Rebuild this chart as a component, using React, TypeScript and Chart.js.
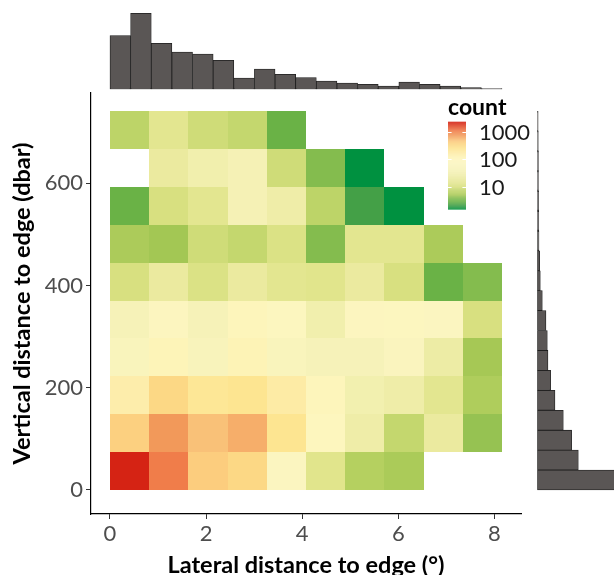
import React, { useEffect, useRef } from "react";
import { Chart, registerables } from "chart.js";
Chart.register(...registerables);

// ---------------- data ----------------
const xTicks = [0, 2, 4, 6, 8];
const yTicks = [0, 200, 400, 600];
const legendTicks = [10, 100, 1000];
const legendMin = 1.5;
const legendMax = 2350;

// 2-D bins (lateral °, vertical dbar)
const heatXStart = 0;
const heatXWidth = 0.8156;
const heatYStart = 0;
const heatYHeight = 74.1;

// counts per vertical bin, bottom row first; null = empty bin
const countsRow0 = [2290, 1120, 447, 355, 71, 13, 6, 5.3, null, null];
const countsRow1 = [420, 790, 520, 630, 250, 100, 25, 8, 20, 4.5];
const countsRow2 = [160, 355, 230, 250, 180, 110, 30, 25, 14, 5.6];
const countsRow3 = [55, 120, 50, 125, 55, 42, 42, 60, 23, 5];
const countsRow4 = [40, 80, 40, 110, 90, 28, 80, 90, 70, 10];
const countsRow5 = [10, 20, 11, 20, 14, 13, 20, 10, 3, 4];
const countsRow6 = [5.4, 4.9, 9, 8, 11, 4, 14, 14, 5.4, null];
const countsRow7 = [3, 10, 14, 36, 25, 7, 2.2, 1.5, null, null];
const countsRow8 = [null, 20, 28, 36, 9, 4, 1.5, null, null, null];
const countsRow9 = [7, 14, 9, 8, 3, null, null, null, null, null];
const heatRows = [countsRow0, countsRow1, countsRow2, countsRow3, countsRow4, countsRow5, countsRow6, countsRow7, countsRow8, countsRow9];

// marginal histograms
const topHistStart = 0;
const topHistWidth = 0.4293;
const topHistCounts = [1610, 2280, 1380, 1120, 1060, 870, 340, 610, 450, 350, 250, 190, 150, 100, 220, 150, 100, 50, 20];

const rightHistStart = 0;
const rightHistWidth = 39.0;
const rightHistCounts = [2400, 1230, 1030, 780, 530, 400, 320, 300, 260, 150, 90, 70, 50, 45, 40, 35, 35, 30, 25];

// ---------------- styling / layout ----------------
const FONT = "Lato";
const X_MIN = -0.395;
const X_MAX = 8.552;
const Y_MIN = -47;
const Y_MAX = 776.7;
const AREA = { left: 91, top: 93, right: 521, bottom: 514 };
const W = 614;
const H = 575;

const colorStops: [number, string][] = [
  [0.176, "#009140"],
  [0.342, "#44a047"],
  [0.477, "#6ab246"],
  [0.602, "#84bc4e"],
  [0.699, "#a6c855"],
  [0.778, "#b5d060"],
  [0.903, "#c4d76e"],
  [1.0, "#d8e080"],
  [1.146, "#e3e690"],
  [1.301, "#ebea9f"],
  [1.447, "#f1efad"],
  [1.602, "#f6f2b8"],
  [1.85, "#fbf5c0"],
  [2.0, "#fdf6be"],
  [2.1, "#fdf3b6"],
  [2.25, "#fdeba6"],
  [2.4, "#fde591"],
  [2.55, "#fcd885"],
  [2.65, "#fccd7e"],
  [2.72, "#f9c078"],
  [2.8, "#f6ae6a"],
  [2.9, "#f2985a"],
  [3.05, "#f07d4a"],
  [3.371, "#d42012"],
];

function hexToRgb(h: string) {
  const n = parseInt(h.slice(1), 16);
  return [(n >> 16) & 255, (n >> 8) & 255, n & 255];
}

function colorForLog(l: number) {
  if (l <= colorStops[0][0]) return colorStops[0][1];
  for (let i = 1; i < colorStops.length; i++) {
    const [l1, c1] = colorStops[i];
    if (l <= l1) {
      const [l0, c0] = colorStops[i - 1];
      const t = (l - l0) / (l1 - l0);
      const a = hexToRgb(c0);
      const b = hexToRgb(c1);
      const r = a.map((v, k) => Math.round(v + (b[k] - v) * t));
      return `rgb(${r[0]},${r[1]},${r[2]})`;
    }
  }
  return colorStops[colorStops.length - 1][1];
}
const colorFor = (v: number) => colorForLog(Math.log10(v));

const heatmapPlugin = {
  id: "heatmap",
  beforeDatasetsDraw(chart: any) {
    const { ctx, chartArea, scales } = chart;
    const xs = scales.x;
    const ys = scales.y;
    ctx.save();
    ctx.beginPath();
    ctx.rect(chartArea.left, chartArea.top, chartArea.right - chartArea.left, chartArea.bottom - chartArea.top);
    ctx.clip();
    heatRows.forEach((row, ri) => {
      row.forEach((v, ci) => {
        if (v == null) return;
        const x0 = Math.round(xs.getPixelForValue(heatXStart + ci * heatXWidth));
        const x1 = Math.round(xs.getPixelForValue(heatXStart + (ci + 1) * heatXWidth));
        const y0 = Math.round(ys.getPixelForValue(heatYStart + ri * heatYHeight));
        const y1 = Math.round(ys.getPixelForValue(heatYStart + (ri + 1) * heatYHeight));
        ctx.fillStyle = colorFor(v);
        ctx.fillRect(Math.min(x0, x1), Math.min(y0, y1), Math.abs(x1 - x0), Math.abs(y1 - y0));
      });
    });
    ctx.restore();
  },
};

const colorbarPlugin = {
  id: "colorbar",
  afterDraw(chart: any) {
    const { ctx } = chart;
    const bx = 448;
    const bw = 18;
    const top = 121.7;
    const bottom = 209.3;
    const lmin = Math.log10(legendMin);
    const lmax = Math.log10(legendMax);
    const yFor = (l: number) => bottom - ((l - lmin) / (lmax - lmin)) * (bottom - top);
    ctx.save();
    const steps = Math.ceil(bottom - top);
    for (let i = 0; i < steps; i++) {
      const y0 = Math.max(top, bottom - i - 1);
      const y1 = bottom - i;
      const l = lmin + ((bottom - (y0 + y1) / 2) / (bottom - top)) * (lmax - lmin);
      ctx.fillStyle = colorForLog(l);
      ctx.fillRect(bx, y0, bw, y1 - y0 + 0.3);
    }
    ctx.strokeStyle = "#ffffff";
    ctx.lineWidth = 1;
    ctx.fillStyle = "#1a1a1a";
    ctx.font = `22px ${FONT}`;
    ctx.textBaseline = "middle";
    ctx.textAlign = "left";
    legendTicks.forEach((t) => {
      const y = Math.round(yFor(Math.log10(t))) + 0.5;
      ctx.beginPath();
      ctx.moveTo(bx, y);
      ctx.lineTo(bx + 3.6, y);
      ctx.moveTo(bx + bw - 3.6, y);
      ctx.lineTo(bx + bw, y);
      ctx.stroke();
      ctx.fillText(String(t), 479, y);
    });
    ctx.font = `bold 23px ${FONT}`;
    ctx.fillStyle = "#000";
    ctx.textBaseline = "alphabetic";
    ctx.fillText("count", 448, 115);
    ctx.restore();
  },
};

export default function App() {
  const mainRef = useRef<HTMLCanvasElement>(null);
  const topRef = useRef<HTMLCanvasElement>(null);
  const rightRef = useRef<HTMLCanvasElement>(null);

  useEffect(() => {
    const cellPoints: { x: number; y: number }[] = [];
    heatRows.forEach((row, ri) =>
      row.forEach((v, ci) => {
        if (v != null)
          cellPoints.push({ x: heatXStart + (ci + 0.5) * heatXWidth, y: heatYStart + (ri + 0.5) * heatYHeight });
      })
    );

    const tickFont = { family: FONT, size: 22 };
    const titleFont = { family: FONT, size: 23.5, weight: "bold" as const };

    const main = new Chart(mainRef.current!, {
      type: "scatter",
      data: { datasets: [{ data: cellPoints, pointRadius: 0, pointHoverRadius: 0 }] },
      options: {
        animation: false,
        responsive: false,
        events: [],
        layout: { padding: { left: 0, top: AREA.top, right: W - AREA.right, bottom: 0 } },
        plugins: { legend: { display: false }, tooltip: { enabled: false } },
        scales: {
          x: {
            type: "linear",
            min: X_MIN,
            max: X_MAX,
            afterBuildTicks: (s: any) => {
              s.ticks = xTicks.map((v) => ({ value: v }));
            },
            afterFit: (s: any) => {
              s.height = H - AREA.bottom;
            },
            grid: { display: true, drawOnChartArea: false, drawTicks: true, tickLength: 5, color: "#333333", lineWidth: 1 },
            border: { display: true, color: "#000000", width: 1.2 },
            ticks: { color: "#4d4d4d", font: tickFont, padding: 2, maxRotation: 0, autoSkip: false },
            title: {
              display: true,
              text: "Lateral distance to edge (°)",
              color: "#000000",
              font: titleFont,
              padding: { top: 0, bottom: -5 },
            },
          },
          y: {
            type: "linear",
            min: Y_MIN,
            max: Y_MAX,
            afterBuildTicks: (s: any) => {
              s.ticks = yTicks.map((v) => ({ value: v }));
            },
            afterFit: (s: any) => {
              s.width = AREA.left;
            },
            grid: { display: true, drawOnChartArea: false, drawTicks: true, tickLength: 5, color: "#333333", lineWidth: 1 },
            border: { display: true, color: "#000000", width: 1.2 },
            ticks: { color: "#4d4d4d", font: tickFont, padding: 3, autoSkip: false },
            title: {
              display: true,
              text: "Vertical distance to edge (dbar)",
              color: "#000000",
              font: titleFont,
              padding: { top: 8, bottom: 0 },
            },
          },
        },
      },
      plugins: [heatmapPlugin, colorbarPlugin],
    });

    const barStyle = {
      backgroundColor: "#5a5655",
      borderColor: "#1e1e1e",
      borderWidth: 0.8,
      borderSkipped: false as const,
      barPercentage: 1,
      categoryPercentage: 1,
      grouped: false,
    };

    const topChart = new Chart(topRef.current!, {
      type: "bar",
      data: {
        datasets: [
          {
            data: topHistCounts.map((c, i) => ({ x: topHistStart + (i + 0.5) * topHistWidth, y: c })),
            ...barStyle,
          },
        ],
      },
      options: {
        animation: false,
        responsive: false,
        events: [],
        layout: { padding: { left: AREA.left, right: W - AREA.right, top: 5, bottom: 95 - 89.3 } },
        plugins: { legend: { display: false }, tooltip: { enabled: false } },
        scales: {
          x: {
            type: "linear",
            offset: false,
            min: X_MIN,
            max: X_MAX,
            display: false,
            afterBuildTicks: (s: any) => {
              s.ticks = [{ value: 0 }];
            },
          },
          y: { type: "linear", min: 0, max: 2529, display: false },
        },
      },
    });

    const rightChart = new Chart(rightRef.current!, {
      type: "bar",
      data: {
        datasets: [
          {
            data: rightHistCounts.map((c, i) => ({ y: rightHistStart + (i + 0.5) * rightHistWidth, x: c })),
            ...barStyle,
          },
        ],
      },
      options: {
        indexAxis: "y",
        animation: false,
        responsive: false,
        events: [],
        layout: { padding: { left: 537.3, right: 0, top: AREA.top, bottom: H - AREA.bottom } },
        plugins: { legend: { display: false }, tooltip: { enabled: false } },
        scales: {
          y: {
            type: "linear",
            offset: false,
            min: Y_MIN,
            max: Y_MAX,
            display: false,
            afterBuildTicks: (s: any) => {
              s.ticks = [{ value: 0 }];
            },
          },
          x: { type: "linear", min: 0, max: 2301, display: false },
        },
      },
    });

    return () => {
      main.destroy();
      topChart.destroy();
      rightChart.destroy();
    };
  }, []);

  const abs: React.CSSProperties = { position: "absolute", left: 0, top: 0 };
  return (
    <div style={{ position: "absolute", left: 0, top: 0, width: W, height: H, background: "#fff", overflow: "hidden" }}>
      <canvas ref={mainRef} width={W} height={H} style={abs} />
      <canvas ref={topRef} width={W} height={95} style={abs} />
      <canvas ref={rightRef} width={W} height={H} style={abs} />
    </div>
  );
}
